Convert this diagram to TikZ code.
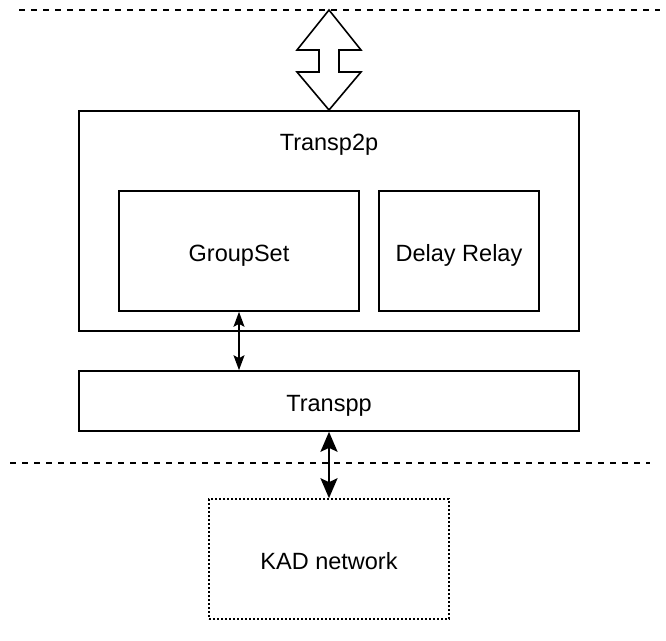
\documentclass[tikz,border=0pt]{standalone}
\usepackage{fontspec}
\setmainfont{Liberation Sans}
\usetikzlibrary{arrows.meta}
\begin{document}
\begin{tikzpicture}[
        x=1pt, y=-1pt,
        % Plain boxes
        box/.style={draw, line width=1.6pt, fill=white, align=center, inner sep=0pt,
                    text height=20pt, text depth=0pt, font=\fontsize{23.5}{27}\selectfont},
        % Separator lines
        sepline/.style={line width=1.6pt, dash pattern=on 6pt off 6pt},
        % Arrow styles
        arrow/.style={{Stealth[length=15pt,width=11pt,inset=3pt]}-{Stealth[length=15pt,width=11pt,inset=3pt]}, line width=1.6pt},
        bigarrow/.style={{Stealth[length=20pt,width=17pt,inset=4pt]}-{Stealth[length=20pt,width=17pt,inset=4pt]}, line width=2.6pt}
    ]
    \useasboundingbox (0,0) rectangle (666,640);

    % Separator lines
    \draw[sepline] (19,10) -- (660,10);
    \draw[sepline] (10,463) -- (650,463);

    % Block arrow on top
    \draw[line width=1.6pt, fill=white, line join=miter]
        (329,10) -- (361,50) -- (339,50) -- (339,72) -- (361,72) -- (329,110)
        -- (297,72) -- (319,72) -- (319,50) -- (297,50) -- cycle;

    % Main container
    \node[box, minimum width=500pt, minimum height=220pt] (transp2p) at (329,221) {};
    \node[font=\fontsize{23.5}{27}\selectfont, anchor=base] (transp2plabel) at (329,150) {Transp2p};

    % Inner boxes
    \node[box, minimum width=240pt, minimum height=120pt] (groupset) at (239,251) {GroupSet};
    \node[box, minimum width=160pt, minimum height=120pt] (delay) at (459,251) {Delay Relay};

    % Lower layer
    \node[box, minimum width=500pt, minimum height=60pt] (transpp) at (329,401) {Transpp};

    % Network
    \node[box, dash pattern=on 2pt off 2pt, minimum width=240pt, minimum height=120pt] (kad) at (329,559) {KAD network};

    % Connections
    \draw[arrow] (groupset.south) -- (groupset.south |- transpp.north);
    \draw[bigarrow] (transpp.south) -- (kad.north);

\end{tikzpicture}
\end{document}
